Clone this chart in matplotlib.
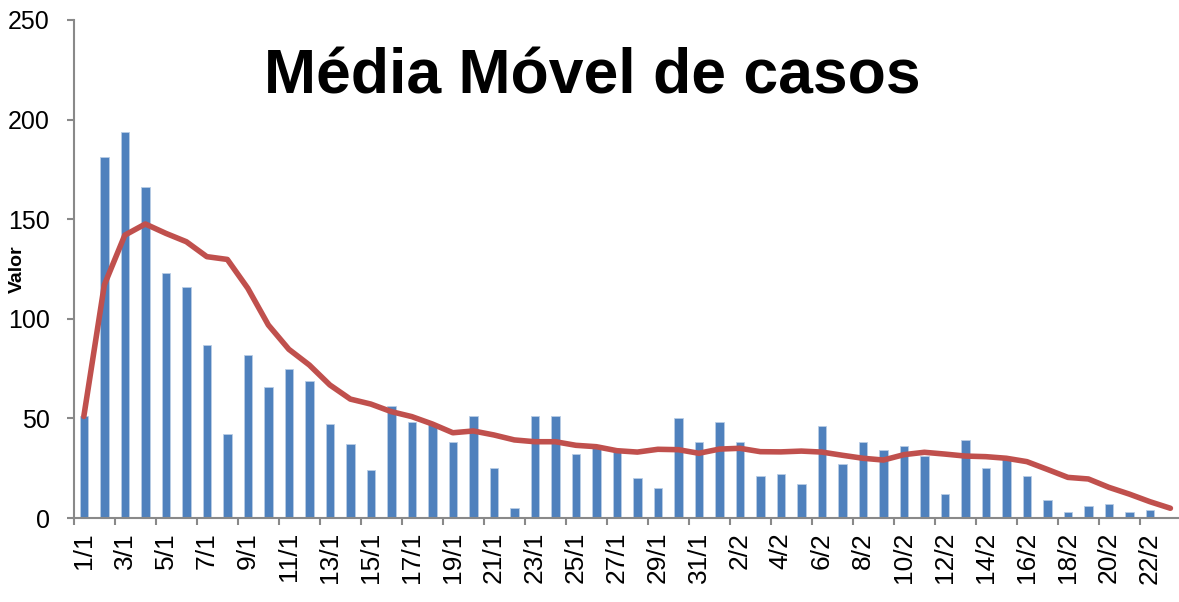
import matplotlib
matplotlib.use('Agg')
import matplotlib.pyplot as plt
import numpy as np

plt.rcParams['font.family'] = ['Liberation Sans', 'DejaVu Sans']

# 1/1 .. 23/2
dias = [f'{d}/1' for d in range(1, 32)] + [f'{d}/2' for d in range(1, 24)]

casos = [51, 181, 194, 166, 123, 116, 87, 42, 82, 66,
         75, 69, 47, 37, 24, 56, 48, 47, 38, 51,
         25, 5, 51, 51, 32, 35, 33, 20, 15, 50,
         38, 48, 38, 21, 22, 17, 46, 27, 38, 34,
         36, 31, 12, 39, 25, 30, 21, 9, 3, 6,
         7, 3, 4, 0]

media_movel = [51, 117, 142, 147.6, 142.9, 138.7, 131.2, 129.8, 115.3, 96.9,
               84.7, 76.8, 66.8, 59.7, 57.2, 53.4, 50.9, 47.2, 42.8, 43.7,
               41.7, 39.2, 38.3, 38.3, 36.5, 35.8, 33.8, 33.1, 34.5, 34.3,
               32.5, 34.6, 35.0, 33.3, 33.2, 33.6, 33.1, 31.5, 30.0, 29.1,
               31.8, 33.0, 32.1, 31.1, 30.8, 30.0, 28.3, 24.4, 20.4, 19.6,
               15.4, 12.0, 8.2, 4.9]

x = np.arange(len(dias))

fig = plt.figure(figsize=(11.79, 6.02), dpi=100)
ax = fig.add_axes([0.0624, 0.1395, 0.939, 0.8273])

ax.bar(x, casos, width=0.42, color='#4F81BD', edgecolor='#B9CDE5', linewidth=0.6, zorder=2)
ax.plot(x, media_movel, color='#C0504D', linewidth=4, solid_capstyle='round',
        solid_joinstyle='round', zorder=3)

ax.set_xlim(-0.5, len(dias) - 0.5)
ax.set_ylim(0, 250)
ax.set_yticks(np.arange(0, 251, 50))

# labels every other day, tick marks between categories
ax.set_xticks(x[::2])
ax.set_xticklabels(dias[::2], rotation=90, va='top', ha='center')
ax.set_xticks(np.arange(-0.5, len(dias), 2), minor=True)
ax.tick_params(axis='x', which='major', length=0, pad=10, labelsize=19)
ax.tick_params(axis='x', which='minor', length=5, width=1.5, color='#898989')
ax.tick_params(axis='y', length=5, width=1.5, color='#898989', pad=12, labelsize=18)

for s in ['top', 'right']:
    ax.spines[s].set_visible(False)
for s in ['left', 'bottom']:
    ax.spines[s].set_color('#898989')
    ax.spines[s].set_linewidth(1.5)

fig.text(0.0145, 0.553, 'Valor', rotation=90, ha='center', va='center',
         fontsize=14, fontweight='bold')
fig.text(0.5025, 0.845, 'Média Móvel de casos', ha='center', va='baseline',
         fontsize=45, fontweight='bold')

fig.savefig('out.png', dpi=100)
